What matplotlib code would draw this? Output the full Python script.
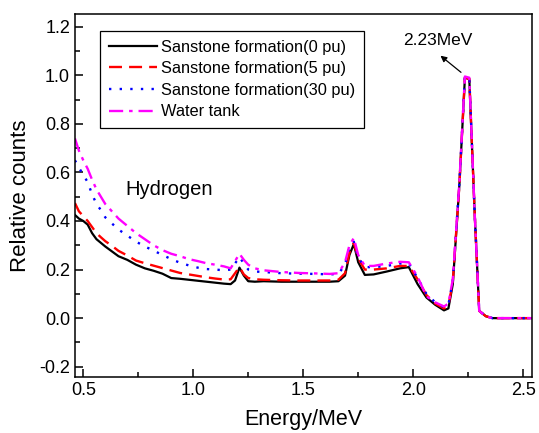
import matplotlib.pyplot as plt
from matplotlib.ticker import MultipleLocator

plt.rcParams['font.family'] = ['Liberation Sans', 'DejaVu Sans']
plt.rcParams['axes.unicode_minus'] = False

# Energy grid (MeV) shared by all spectra
energy = [0.462, 0.48, 0.50, 0.52, 0.54, 0.56, 0.58, 0.60, 0.63, 0.66,
          0.70, 0.74, 0.78, 0.82, 0.86, 0.90, 0.94, 0.98, 1.02, 1.06,
          1.10, 1.14, 1.17, 1.19, 1.21, 1.23, 1.25, 1.28, 1.32, 1.40,
          1.48, 1.56, 1.62, 1.66, 1.69, 1.71, 1.73, 1.75, 1.78, 1.82,
          1.88, 1.94, 1.98, 2.02, 2.06, 2.10, 2.14, 2.16, 2.18, 2.21,
          2.235, 2.255, 2.28, 2.30, 2.33, 2.36, 2.45, 2.54]

pu0 = [0.425, 0.41, 0.40, 0.385, 0.35, 0.325, 0.31, 0.295, 0.275, 0.255,
       0.24, 0.22, 0.205, 0.195, 0.183, 0.165, 0.162, 0.158, 0.154, 0.150,
       0.146, 0.142, 0.140, 0.155, 0.208, 0.175, 0.152, 0.150, 0.152, 0.150,
       0.150, 0.150, 0.150, 0.152, 0.175, 0.26, 0.305, 0.23, 0.178, 0.18,
       0.192, 0.205, 0.21, 0.14, 0.085, 0.055, 0.032, 0.04, 0.14, 0.55,
       0.99, 0.985, 0.42, 0.03, 0.008, 0.0, 0.0, 0.0]

pu5 = [0.474, 0.44, 0.42, 0.40, 0.375, 0.35, 0.333, 0.317, 0.298, 0.277,
       0.258, 0.237, 0.226, 0.216, 0.206, 0.196, 0.186, 0.18, 0.174, 0.168,
       0.163, 0.159, 0.16, 0.185, 0.21, 0.18, 0.165, 0.16, 0.158, 0.156,
       0.155, 0.155, 0.155, 0.158, 0.185, 0.27, 0.31, 0.245, 0.20, 0.20,
       0.205, 0.215, 0.215, 0.16, 0.095, 0.06, 0.04, 0.05, 0.15, 0.55,
       0.99, 0.985, 0.42, 0.03, 0.008, 0.0, 0.0, 0.0]

pu30 = [0.65, 0.62, 0.59, 0.56, 0.51, 0.47, 0.445, 0.415, 0.39, 0.365,
        0.34, 0.315, 0.295, 0.278, 0.26, 0.243, 0.228, 0.217, 0.208, 0.202,
        0.20, 0.197, 0.20, 0.225, 0.252, 0.225, 0.20, 0.192, 0.19, 0.185,
        0.183, 0.182, 0.18, 0.182, 0.22, 0.29, 0.315, 0.25, 0.21, 0.21,
        0.215, 0.225, 0.225, 0.165, 0.10, 0.065, 0.045, 0.055, 0.155, 0.56,
        0.995, 0.99, 0.42, 0.03, 0.008, 0.0, 0.0, 0.0]

water = [0.74, 0.69, 0.65, 0.615, 0.57, 0.53, 0.50, 0.47, 0.44, 0.41,
         0.38, 0.35, 0.325, 0.30, 0.28, 0.265, 0.255, 0.243, 0.235, 0.226,
         0.22, 0.213, 0.205, 0.235, 0.265, 0.24, 0.22, 0.205, 0.197, 0.19,
         0.186, 0.184, 0.182, 0.185, 0.23, 0.30, 0.33, 0.26, 0.215, 0.215,
         0.225, 0.232, 0.23, 0.17, 0.09, 0.065, 0.048, 0.06, 0.16, 0.56,
         0.995, 0.99, 0.42, 0.03, 0.008, 0.0, 0.0, 0.0]

labels = ['Sanstone formation(0 pu)', 'Sanstone formation(5 pu)',
          'Sanstone formation(30 pu)', 'Water tank']

fig = plt.figure(figsize=(5.39, 4.33), dpi=100)
ax = fig.add_axes([0.139, 0.129, 0.848, 0.839])

ax.plot(energy, pu0, color='black', lw=1.6, label=labels[0])
ax.plot(energy, pu5, color='red', lw=1.7, ls=(0, (5.5, 3)), label=labels[1])
ax.plot(energy, pu30, color='blue', lw=1.7, ls=(0, (1, 3.5)), label=labels[2])
ax.plot(energy, water, color='magenta', lw=1.7, ls=(0, (6, 2.5, 1.5, 2.5)),
        label=labels[3])

ax.set_xlim(0.462, 2.54)
ax.set_ylim(-0.243, 1.253)
ax.xaxis.set_major_locator(MultipleLocator(0.5))
ax.xaxis.set_minor_locator(MultipleLocator(0.25))
ax.yaxis.set_major_locator(MultipleLocator(0.2))
ax.yaxis.set_minor_locator(MultipleLocator(0.1))
ax.tick_params(which='both', direction='in', labelsize=13, width=1.1)
ax.tick_params(which='major', length=6)
ax.tick_params(which='minor', length=3.5)
for s in ax.spines.values():
    s.set_linewidth(1.1)

ax.set_xlabel('Energy/MeV', fontsize=15.5, labelpad=7)
ax.set_ylabel('Relative counts', fontsize=16, labelpad=6)

ax.text(0.89, 0.53, 'Hydrogen', fontsize=14.5, ha='center', va='center')
ax.annotate('2.23MeV', xy=(2.114, 1.088), xytext=(2.114, 1.145),
            fontsize=12.5, ha='center', va='center')
ax.annotate('', xy=(2.114, 1.088), xytext=(2.227, 1.005),
            arrowprops=dict(arrowstyle='-|>', color='black', lw=0.9,
                            mutation_scale=9))

leg = ax.legend(loc='upper left', bbox_to_anchor=(0.055, 0.954),
                fontsize=11.8, handlelength=2.9, handletextpad=0.25,
                labelspacing=0.4, borderpad=0.55, borderaxespad=0,
                fancybox=False, framealpha=1, edgecolor='black')
leg.get_frame().set_linewidth(0.9)

fig.savefig('out.png', dpi=100)
